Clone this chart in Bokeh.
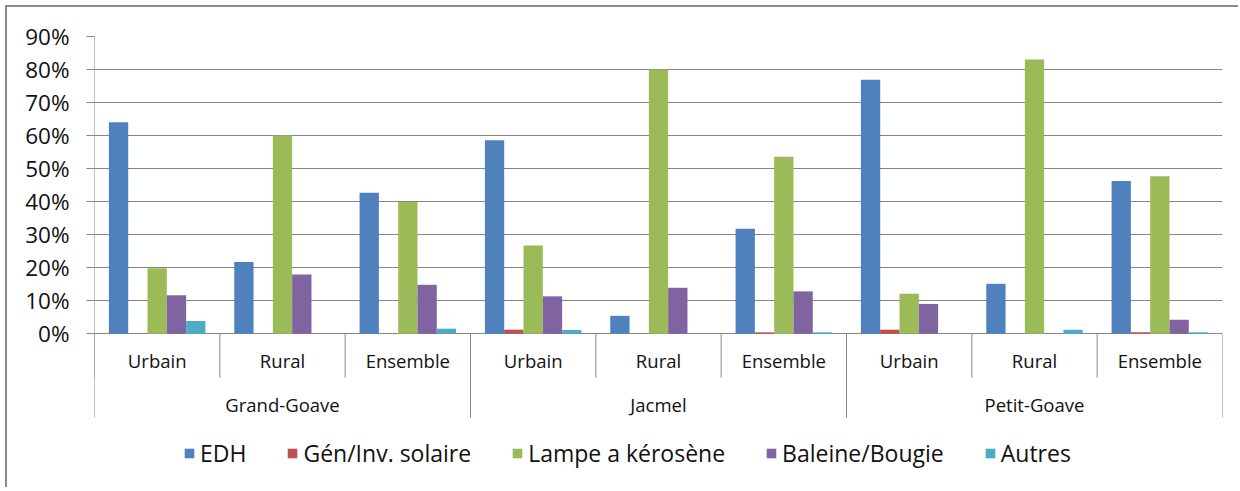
from bokeh.plotting import figure
from bokeh.models import (FactorRange, ColumnDataSource, FixedTicker, PrintfTickFormatter,
                          Legend, LegendItem)
from bokeh.transform import dodge
from bokeh.core.properties import value
from bokeh.embed import file_html
from bokeh.resources import INLINE

# ---- data ----
groups = ["Grand-Goave", "Jacmel", "Petit-Goave"]
subs = ["Urbain", "Rural", "Ensemble"]
series_names = ["EDH", "Gén/Inv. solaire", "Lampe a kérosène", "Baleine/Bougie", "Autres"]
edh = [64.0, 21.7, 42.7, 58.6, 5.4, 31.8, 76.9, 15.1, 46.2]
gen = [0.0, 0.0, 0.0, 1.2, 0.0, 0.4, 1.2, 0.0, 0.4]
lampe = [19.8, 60.0, 39.9, 26.7, 80.0, 53.6, 12.1, 83.0, 47.7]
baleine = [11.6, 17.9, 14.8, 11.3, 13.9, 12.8, 9.0, 0.0, 4.2]
autres = [3.8, 0.0, 1.5, 1.1, 0.0, 0.4, 0.0, 1.2, 0.4]
yticks = [0, 10, 20, 30, 40, 50, 60, 70, 80, 90]

colors = ["#4F81BD", "#C0504D", "#9BBB59", "#8064A2", "#4BACC6"]
FONT = "Open Sans"
GRID = "#868686"
TEXT = "#111111"

factors = [(g, s) for g in groups for s in subs]
src = ColumnDataSource(dict(cat=factors, edh=edh, gen=gen, lampe=lampe,
                            baleine=baleine, autres=autres))

Y_MIN = -47.2      # frame runs down to the bottom of the canvas
GROUP_BOTTOM = -25.4
SUB_BOTTOM = -13.3
p = figure(x_range=FactorRange(*factors, range_padding=0, group_padding=0, factor_padding=0),
           y_range=(Y_MIN, 90),
           width=1233, height=482, output_backend="svg", toolbar_location=None,
           x_axis_location=None, min_border_left=87, min_border_right=18,
           min_border_top=29, min_border_bottom=0)
p.outline_line_color = None
p.background_fill_color = "white"
p.border_fill_color = "white"
p.styles = {"margin-left": "5px", "margin-top": "5px",
            "border-left": "2px solid #8a8a8a", "border-top": "2px solid #8a8a8a"}

# y axis (line drawn as a segment so it stops at the bottom of the category area)
ax = p.yaxis[0]
ax.ticker = FixedTicker(ticks=yticks)
ax.formatter = PrintfTickFormatter(format="%d%%")
ax.axis_line_color = None
ax.major_tick_line_color = GRID
ax.major_tick_out = 8
ax.major_tick_in = 0
ax.minor_tick_line_color = None
ax.major_label_text_font = FONT
ax.major_label_text_font_size = "22.5px"
ax.major_label_text_color = TEXT
ax.major_label_standoff = 17
p.xgrid.visible = False
p.ygrid.ticker = FixedTicker(ticks=yticks)
p.ygrid.grid_line_color = GRID
p.ygrid.grid_line_width = 1

# bars
cols = ["edh", "gen", "lampe", "baleine", "autres"]
bw = 0.154
renderers = []
for i, (c, col) in enumerate(zip(cols, colors)):
    off = (i - 2) * bw
    r = p.vbar(x=dodge("cat", off, range=p.x_range), top=c, bottom=0, width=bw,
               source=src, fill_color=col, line_color=None)
    renderers.append(r)

# y-axis line
asrc = ColumnDataSource(dict(cat=[factors[0]]))
p.segment(x0=dodge("cat", -0.5, range=p.x_range), x1=dodge("cat", -0.5, range=p.x_range),
          y0=0, y1=yticks[-1], source=asrc, line_color=GRID, line_width=1)

# category separators
p.segment(x0=dodge("cat", -0.5, range=p.x_range), x1=dodge("cat", -0.5, range=p.x_range),
          y0=0, y1=SUB_BOTTOM, source=src, line_color=GRID, line_width=1)
gsrc = ColumnDataSource(dict(first=[(g, subs[0]) for g in groups],
                             last=[(g, subs[-1]) for g in groups], grp=groups))
p.segment(x0=dodge("first", -0.5, range=p.x_range), x1=dodge("first", -0.5, range=p.x_range),
          y0=0, y1=GROUP_BOTTOM, source=gsrc, line_color=GRID, line_width=1)
p.segment(x0=dodge("last", 0.5, range=p.x_range), x1=dodge("last", 0.5, range=p.x_range),
          y0=0, y1=GROUP_BOTTOM, source=gsrc, line_color=GRID, line_width=1)

# labels
lsrc = ColumnDataSource(dict(cat=factors, lab=[s for g in groups for s in subs]))
p.text(x="cat", y=-8.2, text="lab", source=lsrc, text_align="center", text_baseline="middle",
       text_font=value(FONT), text_font_size="18.5px", text_color=TEXT)
p.text(x=dodge("last", -1.0, range=p.x_range), y=-21.5, text="grp", source=gsrc,
       text_align="center", text_baseline="middle",
       text_font=value(FONT), text_font_size="18.5px", text_color=TEXT)

legend = Legend(items=[LegendItem(label=n, renderers=[r]) for n, r in zip(series_names, renderers)],
                orientation="horizontal", location=(89, 20))
legend.label_text_font = FONT
legend.label_text_font_size = "23px"
legend.label_text_color = TEXT
legend.glyph_width = 12
legend.glyph_height = 12
legend.label_standoff = 5
legend.spacing = 40
legend.padding = 0
legend.margin = 0
legend.border_line_color = None
legend.background_fill_alpha = 0
p.add_layout(legend, "center")

open("out.html", "w").write(file_html(p, INLINE))
